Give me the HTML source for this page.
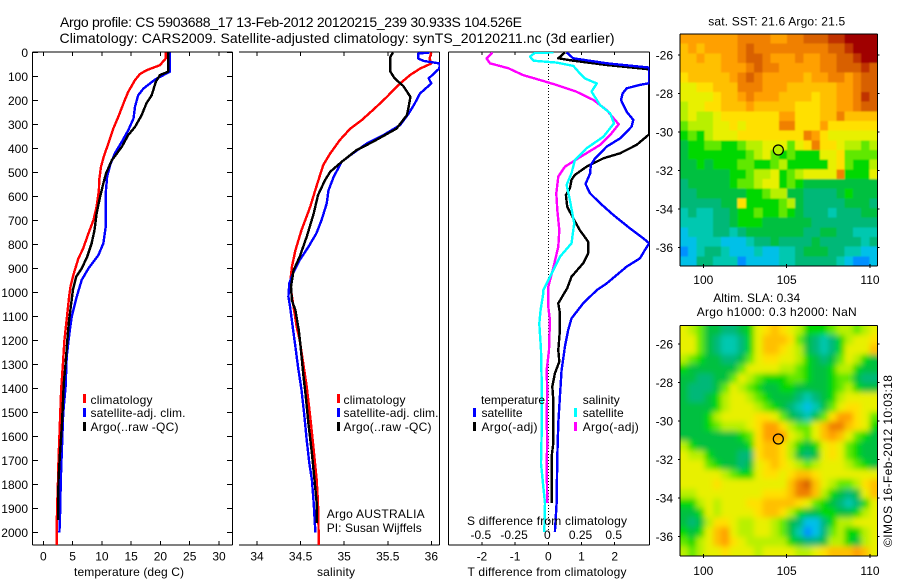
<!DOCTYPE html>
<html lang="en">
<head>
<meta charset="utf-8">
<title>Argo profile CS 5903688_17</title>
<style>
html,body{margin:0;padding:0;background:#fff;}
svg{display:block;}
text{font-family:"Liberation Sans",Arial,sans-serif;font-size:12px;fill:#000;}
.title{font-size:14px;}
</style>
</head>
<body>
<svg id="figure" xmlns="http://www.w3.org/2000/svg" width="900" height="580" viewBox="0 0 900 580">
<defs>
<clipPath id="clip-t"><rect x="32" y="52" width="201" height="493"/></clipPath>
<clipPath id="clip-s"><rect x="239" y="52" width="201" height="493"/></clipPath>
<clipPath id="clip-d"><rect x="448" y="52" width="201.5" height="493"/></clipPath>
<clipPath id="clip-sst"><rect x="680" y="34" width="197.5" height="232"/></clipPath>
<clipPath id="clip-sla"><rect x="680" y="325.5" width="197.5" height="230.5"/></clipPath>
<filter id="blur-sst" x="-10%" y="-10%" width="120%" height="120%"><feGaussianBlur stdDeviation="0.9"/></filter>
<filter id="blur-sla" x="-10%" y="-10%" width="120%" height="120%"><feGaussianBlur stdDeviation="3"/></filter>
</defs>
<rect width="900" height="580" fill="#fff"/>

<text class="title" x="60" y="27" textLength="462">Argo profile: CS 5903688_17 13-Feb-2012 20120215_239 30.933S 104.526E</text>
<text class="title" x="59.5" y="43" textLength="555">Climatology: CARS2009. Satellite-adjusted climatology: synTS_20120211.nc (3d earlier)</text>

<g id="panel-t"></g>
<g id="panel-s"></g>
<g id="panel-d"></g>
<g id="map-sst"></g>
<g id="map-sla"></g>

<text x="129" y="576" text-anchor="middle" textLength="110">temperature (deg C)</text>
<text x="336" y="576" text-anchor="middle" textLength="38">salinity</text>
<text x="547" y="576" text-anchor="middle" textLength="159">T difference from climatology</text>
<text x="547" y="525" text-anchor="middle" textLength="160">S difference from climatology</text>

<g>
<rect x="83" y="394" width="3" height="9" fill="#ff0000"/>
<rect x="83" y="408" width="3" height="9" fill="#0000ff"/>
<rect x="83" y="422" width="3" height="9" fill="#000"/>
<text x="90.5" y="404" textLength="62">climatology</text>
<text x="90.5" y="417" textLength="95">satellite-adj. clim.</text>
<text x="90.5" y="431" textLength="88">Argo(..raw -QC)</text>
</g>
<g>
<rect x="337" y="394" width="3" height="9" fill="#ff0000"/>
<rect x="337" y="408" width="3" height="9" fill="#0000ff"/>
<rect x="337" y="422" width="3" height="9" fill="#000"/>
<text x="343.5" y="404" textLength="62">climatology</text>
<text x="343.5" y="417" textLength="95">satellite-adj. clim.</text>
<text x="343.5" y="431" textLength="88">Argo(..raw -QC)</text>
<text x="326.7" y="518" textLength="98">Argo AUSTRALIA</text>
<text x="326.7" y="532" textLength="95">PI: Susan Wijffels</text>
</g>
<g>
<text x="481" y="404" textLength="64">temperature</text>
<text x="582.7" y="404" textLength="37">salinity</text>
<rect x="473" y="408" width="3" height="9" fill="#0000ff"/>
<rect x="473" y="422" width="3" height="9" fill="#000"/>
<rect x="574" y="408" width="3" height="9" fill="#00ffff"/>
<rect x="574" y="422" width="3" height="9" fill="#ff00ff"/>
<text x="481.5" y="417" textLength="41">satellite</text>
<text x="481.5" y="431" textLength="56">Argo(-adj)</text>
<text x="582.7" y="417" textLength="41">satellite</text>
<text x="582.7" y="431" textLength="56">Argo(-adj)</text>
</g>

<text x="776.7" y="25.5" text-anchor="middle" textLength="137">sat. SST: 21.6 Argo: 21.5</text>
<text x="756.7" y="302" text-anchor="middle" textLength="87">Altim. SLA: 0.34</text>
<text x="776.7" y="316" text-anchor="middle" textLength="160">Argo h1000: 0.3 h2000: NaN</text>
<text transform="translate(892,547) rotate(-90)" textLength="172">©IMOS 16-Feb-2012 10:03:18</text>
</svg>

<script>
// Shared depth axis
const depthTicks = [0,100,200,300,400,500,600,700,800,900,1000,1100,1200,1300,1400,1500,1600,1700,1800,1900,2000];

// Temperature panel
const tempTicks = [0,5,10,15,20,25,30];
const tempClimDepth = [0,25,53,74,90,115,164,199,268,317,380,428,476,532,574,643,699,754,817,858,921,976,1018,1100,1200,1300,1400,1500,1600,1700,1800,1900,1960,2052];
const tempClimValue = [20.9,20.9,19.9,17.6,16.5,15.65,14.5,13.9,12.8,11.95,11.1,10.4,9.85,9.55,9.5,9.1,8.55,7.7,6.8,6.0,5.2,4.65,4.4,4.05,3.6,3.35,3.05,2.9,2.75,2.6,2.5,2.35,2.3,2.3];
const tempSatDepth = [0,80,94,112,150,178,226,275,324,372,421,469,518,587,726,796,844,900,948,1018,1101,1170,1267,1392,1503,1642,1767,1934,2000];
const tempSatValue = [21.6,21.6,20.5,19.1,17.1,16.2,15.65,15.4,14.5,13.4,12.2,11.4,10.9,10.65,10.65,10.25,9.4,7.7,6.55,5.7,4.85,4.45,4.0,3.8,3.4,3.2,3.0,2.85,2.75];
const tempArgoDepth = [0,80,94,122,178,212,261,310,344,393,449,504,546,601,671,740,796,851,900,935,990,1115,1184,1295,1378,1545,1670,1781,1947];
const tempArgoValue = [21.3,21.3,19.9,19.2,18.5,17.6,16.8,15.65,14.5,13.4,11.7,10.7,10.25,9.7,9.1,8.75,8.25,7.5,6.55,5.6,5.05,4.4,4.15,3.8,3.5,3.2,2.85,2.6,2.55];

// Salinity panel
const salTicks = [34,34.5,35,35.5,36];
const salClimDepth = [0,25,46,67,94,136,185,233,282,317,365,421,469,560,643,740,824,893,962,990,1060,1143,1198,1295,1392,1517,1656,1781,1878,2052];
const salClimValue = [36,35.98,36,35.87,35.755,35.62,35.49,35.35,35.2,35.07,34.95,34.84,34.76,34.68,34.61,34.51,34.44,34.4,34.38,34.39,34.42,34.455,34.49,34.53,34.57,34.61,34.65,34.685,34.7,34.71];
const salSatDepth = [0,4,25,35,46,67,108,129,171,212,254,303,344,379,428,456,518,574,629,699,754,810,865,914,962,1018,1060,1143,1226,1309,1406,1503,1614,1711,1781,1878,2000];
const salSatValue = [35.98,35.85,35.85,35.91,36.1,36.09,35.97,36,35.87,35.81,35.74,35.64,35.45,35.26,35.07,34.97,34.88,34.82,34.8,34.74,34.68,34.59,34.49,34.42,34.37,34.36,34.38,34.41,34.44,34.47,34.51,34.54,34.57,34.6,34.63,34.65,34.67];
const salArgoDepth = [0,18,80,108,140,185,226,261,317,372,407,456,497,532,594,671,768,851,907,976,1032,1074,1157,1226,1337,1434,1545,1670,1781,1878,1961];
const salArgoValue = [35.56,35.53,35.53,35.58,35.68,35.76,35.74,35.72,35.6,35.33,35.14,34.97,34.84,34.78,34.7,34.65,34.57,34.49,34.42,34.39,34.4,34.44,34.48,34.5,34.53,34.56,34.59,34.63,34.66,34.685,34.685];

// Difference panel
const diffTempTicks = [-2,-1,0,1,2];
const diffSalTicks = [-0.5,-0.25,0,0.25,0.5];
const diffTempAxisLabels = ['-2','-1','0','1','2'];
const diffSalAxisLabels = ['-0.5','-0.25','0','0.25','0.5'];
const dTempSatDepth = [0,24,45,63,128,135,149,170,198,247,281,309,358,392,441,469,504,548,587,628,677,733,774,795,823,858,892,962,990,1045,1108,1156,1226,1323,1434,1545,1684,1878,1997];
const dTempSatValue = [0.55,0.75,1.76,3.04,3.04,2.76,2.36,2.24,2.19,2.36,2.56,2.51,2.16,1.76,1.41,1.28,1.26,1.12,1.26,1.56,1.96,2.46,2.86,3.04,2.91,2.76,2.36,1.76,1.46,1.05,0.7,0.6,0.5,0.4,0.35,0.3,0.27,0.25,0.2];
const dTempArgoDepth = [0,24,34,52,70,341,385,420,441,476,510,531,566,594,642,691,740,788,837,878,934,982,1045,1087,1156,1240,1288,1337,1392,1448,1573,1628,1684,1878];
const dTempArgoValue = [0.5,0.3,0.75,1.76,3.04,3.04,2.66,2.16,1.66,1.15,0.8,0.7,0.65,0.53,0.57,0.75,0.95,1.2,1.2,1.05,0.7,0.57,0.3,0.35,0.35,0.3,0.33,0.2,0.12,0.15,0.15,0.15,0.1,0.1];
const dSalArgoDepth = [0,24,45,66,94,115,135,163,198,240,299,344,385,441,476,517,587,656,740,809,892,976,1003,1059,1115,1240,1323,1406,1517,1628,1712,1878];
const dSalArgoValue = [-0.42,-0.465,-0.44,-0.3,-0.19,-0.06,0.06,0.21,0.34,0.44,0.53,0.465,0.39,0.225,0.125,0.075,0.06,0.068,0.083,0.075,0.04,0,0,0,0.012,0.005,-0.012,-0.008,-0.012,-0.008,-0.012,-0.008];
const dSalSatDepth = [0,1,17,34,42,56,87,108,129,163,219,253,295,351,399,448,503,552,615,712,795,851,934,990,1003,1073,1129,1240,1378,1573,1712,1809,1878,1997];
const dSalSatValue = [0.038,-0.1,-0.138,-0.112,0.063,0.188,0.238,0.275,0.365,0.325,0.39,0.465,0.495,0.415,0.288,0.2,0.175,0.138,0.163,0.195,0.175,0.088,0.013,-0.038,-0.038,-0.058,-0.068,-0.055,-0.05,-0.05,-0.055,-0.038,-0.025,-0.03];

// Map data: one character per cell, indexing mapPalette
const mapPalette = {'0':'#0090ff','1':'#00c0e8','2':'#00c8b0','3':'#00b878','4':'#00c040','5':'#00d800','6':'#60e800','7':'#b8f000','8':'#e8f000','9':'#ffe000','a':'#ffc000','b':'#ffa000','c':'#f08000','d':'#d86000','e':'#c03000','f':'#a00000'};
const sstRows = [
'bbbbbbbccccbbccdddeeffff',
'ababbbbcdcccccccccddefff',
'aabaabbcddcbbbcbbccddeff',
'aaaaabbbcdccbbbbbccddded',
'9aaaaabcdcbbbbbabbccbcdd',
'8899aaacccbbbaaaaaabbcdd',
'88889aabcbbbaaaa9aabbced',
'78899aaabaaaaa999aabbcdd',
'787789999999bb999aacaaaa',
'677788989999cc999b999999',
'565788899999999cb9888888',
'455665567788868 9c9987767'.replace(' ',''),
'455555556786565558896666',
'445455566556755555896557',
'4444445567785678888c5558',
'344444566788565444444444',
'334444445567744333345444',
'333334495555674333334443',
'232233455655654333233344',
'222233455544444433333333',
'122233234444444334433222',
'112221112334333343333323',
'012332111211223444332211',
'113322201111223333321001'
];
const slaRows = [
'876443345'+'89a987'+'555'+'677678',
'886432235'+'8aaa96'+'432'+'357889',
'886432235'+'8aa987'+'432'+'35888a',
'765443346'+'899887'+'543'+'468754',
'544444468'+'888776'+'544'+'577544',
'443344687'+'655566'+'544'+'566433',
'433346876'+'544554'+'444'+'567544',
'433457887'+'654443'+'234'+'578888',
'444457888'+'765432'+'124'+'689988',
'444578888'+'998643'+'246'+'9bb986',
'444567778'+'9bb976'+'68a'+'cca985',
'444444456'+'9bbb87'+'68a'+'ba8654',
'754444445'+'9aa975'+'458'+'986544',
'877544433'+'9aa974'+'348'+'986544',
'888654434'+'89a987'+'678'+'887654',
'888887655'+'89989a'+'a98'+'888888',
'888898888'+'8888ac'+'da8'+'76679a',
'778888888'+'8999ac'+'ca7'+'54348a',
'557878889'+'9aaaa9'+'865'+'432358',
'445878888'+'9aa975'+'445'+'544578',
'434799877'+'887643'+'113'+'577888',
'5458ab877'+'887642'+'013'+'675578',
'6578ab987'+'777754'+'334'+'775478',
'767889888'+'788887'+'789'+'aaaba8'
];
const mapLonTicks = [100,105,110];
const mapLatTicks = [-26,-28,-30,-32,-34,-36];
const argoLon = [104.5];
const argoLat = [-30.93];

const NS = 'http://www.w3.org/2000/svg';

// Axis functions
function yDepth(d){ return 52.5 + 0.24 * d; }
function xTemp(v){ return 43.3 + 5.857 * v; }
function xSal(v){ return 257 + 87.17 * (v - 34); }
function xDiffT(v){ return 548.3 + 33.2 * v; }
function xDiffS(v){ return 548.3 + 132.8 * v; }

function mk(parent, tag){
  const el = document.createElementNS(NS, tag);
  parent.appendChild(el);
  return el;
}
function addLine(parent, x1, y1, x2, y2, name, width){
  const l = mk(parent, 'line');
  l.setAttribute('x1', x1);
  l.setAttribute('y1', y1);
  l.setAttribute('x2', x2);
  l.setAttribute('y2', y2);
  l.setAttribute('stroke', '#000');
  l.setAttribute('stroke-width', width || 1);
  l.setAttribute('shape-rendering', 'crispEdges');
  
  
  return l;
}
function addText(parent, x, y, str, anchor, name){
  const t = mk(parent, 'text');
  t.setAttribute('x', x);
  t.setAttribute('y', y);
  t.setAttribute('text-anchor', anchor);
  
  
  t.textContent = str;
  return t;
}
function addSeries(parent, depths, values, xFn, color, clip, name){
  const p = mk(parent, 'polyline');
  p.setAttribute('points', depths.map(function(d, i){ return xFn(values[i]).toFixed(1) + ',' + yDepth(d).toFixed(1); }).join(' '));
  p.setAttribute('fill', 'none');
  p.setAttribute('stroke', color);
  p.setAttribute('stroke-width', '2.4');
  p.setAttribute('stroke-linejoin', 'round');
  p.setAttribute('shape-rendering', 'crispEdges');
  p.setAttribute('clip-path', 'url(#' + clip + ')');
  
  
  return p;
}

const TOP = 52, BOTTOM = 545;

// Temperature panel
const gT = document.getElementById('panel-t');
addLine(gT, 32.5, TOP, 232.5, TOP, 'temperature-top-axis');
addLine(gT, 32.5, BOTTOM, 232.5, BOTTOM, 'temperature-bottom-axis');
addLine(gT, 32.5, TOP, 32.5, BOTTOM, 'depth-axis');
addLine(gT, 232.5, TOP, 232.5, BOTTOM, 'temperature-right-axis');
depthTicks.forEach(function(d){
  addLine(gT, 32.5, yDepth(d), 38, yDepth(d), 'depth-tick-left');
  addLine(gT, 227, yDepth(d), 232.5, yDepth(d), 'depth-tick-right');
  addText(gT, 28, yDepth(d) + 4.5, String(d), 'end', 'depth-tick-label');
});
tempTicks.forEach(function(v){
  addLine(gT, xTemp(v), TOP, xTemp(v), TOP + 4, 'temperature-tick-top');
  addLine(gT, xTemp(v), BOTTOM - 4, xTemp(v), BOTTOM, 'temperature-tick-bottom');
  addText(gT, xTemp(v), 560.5, String(v), 'middle', 'temperature-tick-label');
});
addSeries(gT, tempClimDepth, tempClimValue, xTemp, '#ff0000', 'clip-t', 'temperature-climatology-line');
addSeries(gT, tempSatDepth, tempSatValue, xTemp, '#0000ff', 'clip-t', 'temperature-satellite-line');
addSeries(gT, tempArgoDepth, tempArgoValue, xTemp, '#000000', 'clip-t', 'temperature-argo-line');

// Salinity panel
const gS = document.getElementById('panel-s');
addLine(gS, 239, TOP, 439.5, TOP, 'salinity-top-axis');
addLine(gS, 239, BOTTOM, 439.5, BOTTOM, 'salinity-bottom-axis');
addLine(gS, 439.5, TOP, 439.5, BOTTOM, 'salinity-right-axis');
salTicks.forEach(function(v){
  addLine(gS, xSal(v), TOP, xSal(v), TOP + 4, 'salinity-tick-top');
  addLine(gS, xSal(v), BOTTOM - 4, xSal(v), BOTTOM, 'salinity-tick-bottom');
  addText(gS, xSal(v), 560.5, String(v), 'middle', 'salinity-tick-label');
});
addSeries(gS, salClimDepth, salClimValue, xSal, '#ff0000', 'clip-s', 'salinity-climatology-line');
addSeries(gS, salSatDepth, salSatValue, xSal, '#0000ff', 'clip-s', 'salinity-satellite-line');
addSeries(gS, salArgoDepth, salArgoValue, xSal, '#000000', 'clip-s', 'salinity-argo-line');

// Difference panel
const gD = document.getElementById('panel-d');
addLine(gD, 448.5, TOP, 649.5, TOP, 'difference-top-axis');
addLine(gD, 448.5, BOTTOM, 649.5, BOTTOM, 'difference-bottom-axis');
addLine(gD, 448.5, TOP, 448.5, BOTTOM, 'difference-left-axis');
addLine(gD, 649.5, TOP, 649.5, BOTTOM, 'difference-right-axis');
const zeroLine = addLine(gD, xDiffT(0), TOP, xDiffT(0), yDepth(2000), 'zero-difference-line');
zeroLine.setAttribute('stroke-dasharray', '1 2');
diffTempTicks.forEach(function(v, i){
  addLine(gD, xDiffT(v), TOP, xDiffT(v), TOP + 3, 'difference-tick-top');
  addLine(gD, xDiffT(v), BOTTOM - 3, xDiffT(v), BOTTOM, 'difference-tick-bottom');
  addText(gD, xDiffT(v), 560.5, diffTempAxisLabels[i], 'middle', 't-difference-tick-label');
});
diffSalTicks.forEach(function(v, i){
  addText(gD, xDiffS(v) - 1, 539, diffSalAxisLabels[i], 'middle', 's-difference-tick-label');
});
addSeries(gD, dTempArgoDepth, dTempArgoValue, xDiffT, '#000000', 'clip-d', 'difference-t-argo-line');
addSeries(gD, dTempSatDepth, dTempSatValue, xDiffT, '#0000ff', 'clip-d', 'difference-t-satellite-line');
addSeries(gD, dSalArgoDepth, dSalArgoValue, xDiffS, '#ff00ff', 'clip-d', 'difference-s-argo-line');
addSeries(gD, dSalSatDepth, dSalSatValue, xDiffS, '#00ffff', 'clip-d', 'difference-s-satellite-line');

// Maps: cells are drawn from the rows; edge cells overshoot under the clip so the blur keeps full colour at the border
function drawMap(g, rows, x0, x1, y0, y1, yLat26, labelY, markerFill, prefix, clipId, blurId){
  const nr = rows.length;
  const clipGroup = mk(g, 'g');
  clipGroup.setAttribute('clip-path', 'url(#' + clipId + ')');
  
  
  const cellGroup = mk(clipGroup, 'g');
  cellGroup.setAttribute('filter', 'url(#' + blurId + ')');
  
  
  rows.forEach(function(row, r){
    const nc = row.length;
    for (let c = 0; c < nc; c++) {
      const cell = mk(cellGroup, 'rect');
      let cx0 = x0 + (x1 - x0) * c / nc;
      let cx1 = x0 + (x1 - x0) * (c + 1) / nc;
      let cy0 = y0 + (y1 - y0) * r / nr;
      let cy1 = y0 + (y1 - y0) * (r + 1) / nr;
      if (c === 0) { cx0 -= 15; }
      if (c === nc - 1) { cx1 += 15; }
      if (r === 0) { cy0 -= 15; }
      if (r === nr - 1) { cy1 += 15; }
      cell.setAttribute('x', cx0.toFixed(2));
      cell.setAttribute('y', cy0.toFixed(2));
      cell.setAttribute('width', (cx1 - cx0 + 0.4).toFixed(2));
      cell.setAttribute('height', (cy1 - cy0 + 0.4).toFixed(2));
      cell.setAttribute('fill', mapPalette[row[c]]);
      cell.setAttribute('shape-rendering', 'crispEdges');
      
      
    }
  });
  addLine(g, x0, y0, x1, y0, prefix + '-top-border');
  addLine(g, x0, y1, x1, y1, prefix + '-bottom-border');
  addLine(g, x0, y0, x0, y1, prefix + '-left-border');
  addLine(g, x1, y0, x1, y1, prefix + '-right-border');
  function xLon(v){ return 703.3 + 16.67 * (v - 100); }
  function yLat(v){ return yLat26 + 19.27 * (-26 - v); }
  mapLonTicks.forEach(function(v){
    addLine(g, xLon(v), y1 - 2, xLon(v), y1 + 2, prefix + '-lon-tick');
    addText(g, xLon(v), labelY, String(v), 'middle', prefix + '-lon-label');
  });
  mapLatTicks.forEach(function(v){
    addLine(g, x0 - 2, yLat(v), x0, yLat(v), prefix + '-lat-tick-left');
    addLine(g, x1, yLat(v), x1 + 2, yLat(v), prefix + '-lat-tick-right');
    addText(g, 673, yLat(v) + 4.5, String(v), 'end', prefix + '-lat-label');
  });
  const m = mk(g, 'circle');
  m.setAttribute('cx', xLon(argoLon[0]));
  m.setAttribute('cy', yLat(argoLat[0]));
  m.setAttribute('r', '5');
  m.setAttribute('fill', markerFill);
  m.setAttribute('stroke', '#000');
  m.setAttribute('stroke-width', '1.2');
  
  
}
drawMap(document.getElementById('map-sst'), sstRows, 680, 877.5, 34, 266, 55, 284, '#b8f000', 'sst-map', 'clip-sst', 'blur-sst');
drawMap(document.getElementById('map-sla'), slaRows, 680, 877.5, 325.5, 556, 344, 575, 'none', 'sla-map', 'clip-sla', 'blur-sla');
</script>
</body>
</html>
